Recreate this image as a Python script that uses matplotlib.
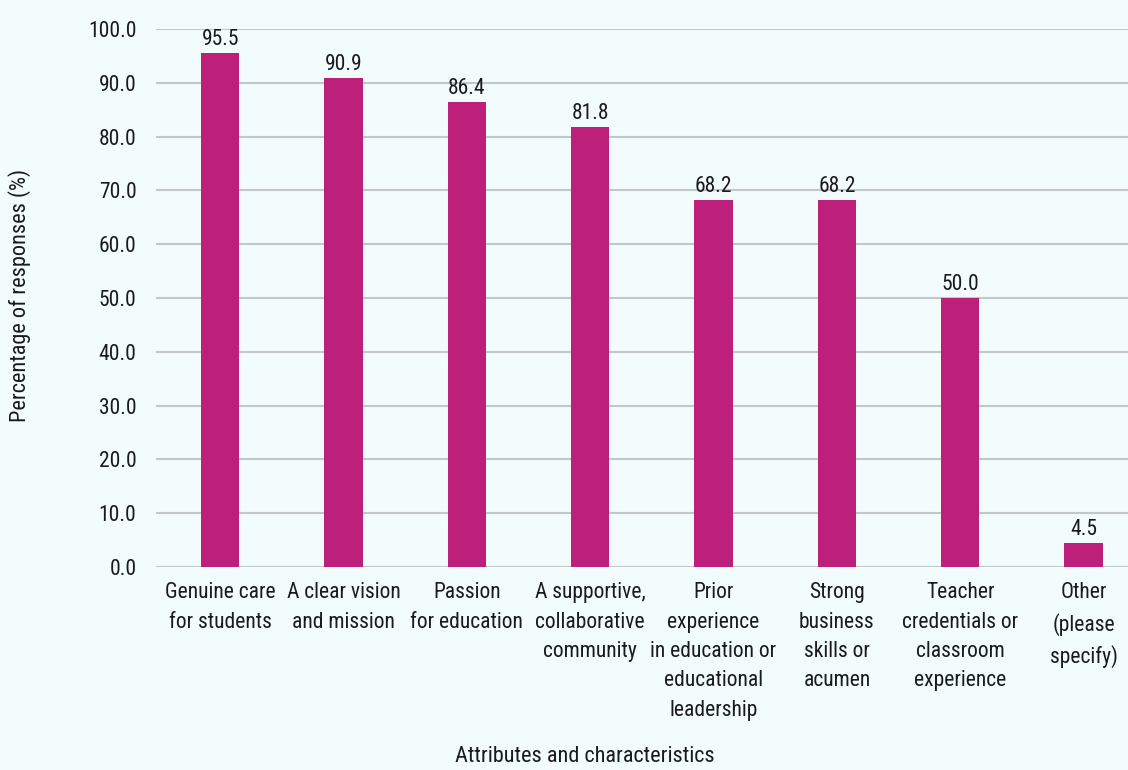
import matplotlib
matplotlib.use("Agg")
import matplotlib.pyplot as plt
from matplotlib import font_manager

categories = [
    "Genuine care\nfor students",
    "A clear vision\nand mission",
    "Passion\nfor education",
    "A supportive,\ncollaborative\ncommunity",
    "Prior\nexperience\nin education or\neducational\nleadership",
    "Strong\nbusiness\nskills or\nacumen",
    "Teacher\ncredentials or\nclassroom\nexperience",
    "Other\n(please\nspecify)",
]
values = [95.5, 90.9, 86.4, 81.8, 68.2, 68.2, 50.0, 4.5]
yticks = [0, 10, 20, 30, 40, 50, 60, 70, 80, 90, 100]

avail = {f.name for f in font_manager.fontManager.ttflist}
fam = [f for f in ["Roboto Condensed", "Liberation Sans Narrow", "Roboto", "DejaVu Sans"] if f in avail]
plt.rcParams['font.family'] = fam

BG = "#f3fcfc"
BAR = "#bc207b"
GRID = "#c3c7c7"
TXT = "#1a1a1a"
FS = 15.5

fig = plt.figure(figsize=(11.28, 7.7), dpi=100, facecolor=BG)
ax = fig.add_axes([156/1128, 1-567/770, 1-156/1128, (567-29)/770], facecolor=BG)

x = list(range(len(values)))
ax.bar(x, values, width=0.31, color=BAR, zorder=3)
for xi, v in zip(x, values):
    ax.text(xi, v + 0.6, f"{v:.1f}", ha="center", va="bottom", fontsize=FS, color=TXT, clip_on=False)

ax.set_xlim(-0.52, 7.36)
ax.set_ylim(0, 100)
ax.set_yticks(yticks)
ax.set_yticklabels([f"{t:.1f}" for t in yticks], fontsize=FS, color=TXT)
ax.set_xticks(x)
ax.set_xticklabels(categories, fontsize=FS, color=TXT, linespacing=1.52)
ax.tick_params(axis="y", length=0, pad=14)
ax.tick_params(axis="x", length=0, pad=11)
ax.grid(axis="y", color=GRID, linewidth=1.5, zorder=0)
for s in ax.spines.values():
    s.set_visible(False)

fig.text(20/1128, 1-295/770, "Percentage of responses (%)", rotation=90, ha="center", va="center", fontsize=FS + 0.5, color=TXT)
fig.text(585/1128, 1-757/770, "Attributes and characteristics", ha="center", va="center", fontsize=FS + 0.5, color=TXT)

fig.savefig("out.png", dpi=100, facecolor=BG)
